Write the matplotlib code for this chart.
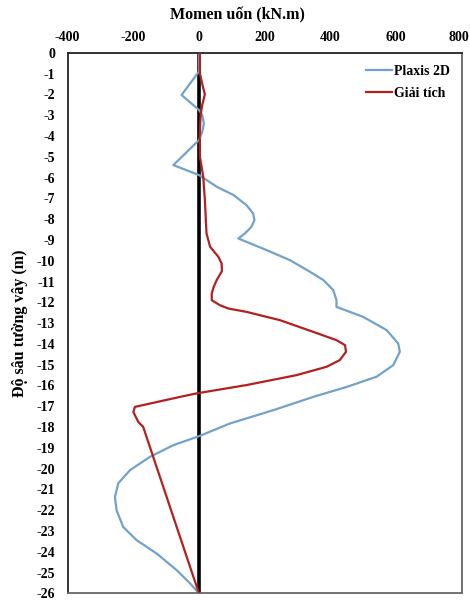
import matplotlib.pyplot as plt
from matplotlib.transforms import offset_copy

# Momen uốn theo độ sâu tường vây
plaxis_depth = [0, -0.9, -2.03, -2.75, -3.0, -3.4, -3.8, -4.2, -5.40, -5.88, -6.44, -6.84, -7.33,
                -7.73, -8.05, -8.37, -8.69, -8.93, -9.49, -9.97, -10.53, -10.93, -11.41, -11.9,
                -12.22, -12.7, -13.34, -13.98, -14.38, -15.02, -15.58, -16.07, -16.55, -17.19,
                -17.83, -18.44, -18.87, -19.43, -20.07, -20.71, -21.36, -22.0, -22.8, -23.44,
                -24.08, -24.88, -25.52, -26.0]
plaxis_moment = [0, 0, -53, 0, 10, 15, 10, 0, -78, 0, 54, 105, 145,
                 165, 169, 160, 140, 120, 206, 277, 338, 379, 409, 419,
                 419, 500, 572, 607, 612, 592, 541, 450, 348, 226,
                 94, 0, -78, -149, -210, -246, -256, -251, -231, -190,
                 -129, -68, -27, 0]

giaitich_depth = [0, -1.0, -1.5, -2.0, -2.5, -3.0, -4.0, -5.0, -5.96, -7.08, -8.69, -9.33, -9.81,
                  -10.13, -10.5, -10.93, -11.26, -11.57, -11.9, -12.14, -12.3, -12.46, -12.86,
                  -13.42, -13.82, -14.06, -14.38, -14.78, -15.1, -15.5, -15.98, -16.38, -16.55,
                  -17.03, -17.27, -17.75, -17.99, -26.0]
giaitich_moment = [3, 3, 10, 18, 10, 5, 2, 3, 13, 18, 23, 34, 59,
                   69, 70, 54, 45, 39, 39, 64, 90, 145, 247,
                   348, 419, 445, 448, 429, 389, 298, 145, -7, -58,
                   -195, -200, -185, -170, 0]

x_ticks = [-400, -200, 0, 200, 400, 600, 800]
y_ticks = list(range(0, -27, -1))

plt.rcParams["font.family"] = ["Liberation Serif", "DejaVu Serif"]
plt.rcParams["font.weight"] = "bold"
plt.rcParams["axes.unicode_minus"] = False

fig = plt.figure(figsize=(4.7, 6), dpi=100)
ax = fig.add_axes([0.144, 0.011, 0.838, 0.901])

ax.axvline(0, color="black", lw=2.6, zorder=1)
ax.plot(plaxis_moment, plaxis_depth, color="#72a1cb", lw=1.6, label="Plaxis 2D", zorder=2)
ax.plot(giaitich_moment, giaitich_depth, color="#b41f1f", lw=1.6, label="Giải tích", zorder=3)

ax.set_xlim(-400, 800)
ax.set_ylim(-26, 0)
ax.set_xticks(x_ticks)
ax.set_yticks(y_ticks)
ax.xaxis.tick_top()
ax.xaxis.set_label_position("top")
ax.tick_params(length=0, labelsize=10)
ax.tick_params(axis="y", pad=9)
ax.tick_params(axis="x", pad=6)
for lab in ax.get_xticklabels() + ax.get_yticklabels():
    lab.set_fontweight("bold")

# keep the last top label inside the figure edge
last = ax.xaxis.get_major_ticks()[-1].label2
last.set_transform(offset_copy(last.get_transform(), fig=fig, x=-3, units="dots"))

ax.set_xlabel("Momen uốn (kN.m)", fontsize=11.5, fontweight="bold", va="center")
ax.xaxis.set_label_coords(0.432, 1.07)
ax.set_ylabel("Độ sâu tường vây (m)", fontsize=11.5, fontweight="bold", labelpad=6)

for side in ["left", "top"]:
    ax.spines[side].set_color("#222222")
for side in ["right", "bottom"]:
    ax.spines[side].set_color("#666666")
for sp in ax.spines.values():
    sp.set_linewidth(1.3)

leg = ax.legend(loc="upper right", frameon=False, fontsize=10, handlelength=1.9,
                handletextpad=0.1, labelspacing=0.65, borderaxespad=0.45)
for t in leg.get_texts():
    t.set_fontweight("bold")

fig.savefig("out.png", dpi=100)
